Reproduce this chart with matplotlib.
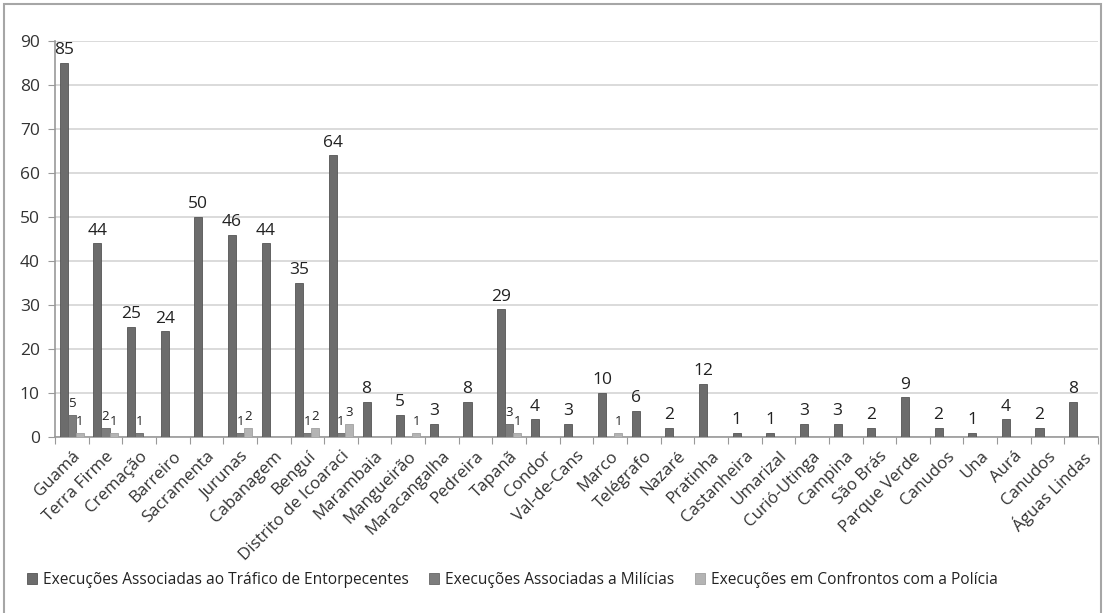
import matplotlib
matplotlib.use('Agg')
import matplotlib.pyplot as plt
import numpy as np
from matplotlib.patches import Rectangle

plt.rcParams['font.family'] = ['Open Sans', 'DejaVu Sans']

# dados
bairros = ['Guamá', 'Terra Firme', 'Cremação', 'Barreiro', 'Sacramenta', 'Jurunas',
           'Cabanagem', 'Benguí', 'Distrito de Icoaraci', 'Marambaia', 'Mangueirão',
           'Maracangalha', 'Pedreira', 'Tapanã', 'Condor', 'Val-de-Cans', 'Marco',
           'Telégrafo', 'Nazaré', 'Pratinha', 'Castanheira', 'Umarizal', 'Curió-Utinga',
           'Campina', 'São Brás', 'Parque Verde', 'Canudos', 'Una', 'Aurá', 'Canudos',
           'Águas Lindas']
trafico = [85, 44, 25, 24, 50, 46, 44, 35, 64, 8, 5, 3, 8, 29, 4, 3, 10, 6, 2, 12,
           1, 1, 3, 3, 2, 9, 2, 1, 4, 2, 8]
milicias = [5, 2, 1, 0, 0, 1, 0, 1, 1, 0, 0, 0, 0, 3, 0, 0, 0, 0, 0, 0,
            0, 0, 0, 0, 0, 0, 0, 0, 0, 0, 0]
policia = [1, 1, 0, 0, 0, 2, 0, 2, 3, 0, 1, 0, 0, 1, 0, 0, 1, 0, 0, 0,
           0, 0, 0, 0, 0, 0, 0, 0, 0, 0, 0]
series_nomes = ['Execuções Associadas ao Tráfico de Entorpecentes',
                'Execuções Associadas a Milícias',
                'Execuções em Confrontos com a Polícia']

cores = ['#6c6c6c', '#7d7d7d', '#b4b4b4']
bordas = ['#555555', '#666666', '#a0a0a0']

fig = plt.figure(figsize=(11.05, 6.13), dpi=100)
ax = fig.add_axes([0.0498, 0.287, 0.9439, 0.646])

x = np.arange(len(bairros))
w = 0.24
valores = [trafico, milicias, policia]
tamanhos = [12.5, 9.5, 9.5]
for i, vals in enumerate(valores):
    pos = x + (i - 1) * w
    ax.bar(pos, vals, width=w, color=cores[i], edgecolor=bordas[i], linewidth=0.6,
           label=series_nomes[i], zorder=3)
    for p, v in zip(pos, vals):
        if v > 0:
            ax.text(p, v + 1.1, str(v), ha='center', va='bottom',
                    fontsize=tamanhos[i], color='#222222', zorder=4)

ax.set_xlim(-0.5, len(bairros) - 0.5)
ax.set_ylim(0, 90)
ax.set_yticks(range(0, 91, 10))
ax.tick_params(axis='y', labelsize=12.5, colors='#333333', length=5, color='#999999', pad=6)
ax.yaxis.grid(True, color='#d4d4d4', linewidth=1.2, zorder=0)

# ticks nos limites das categorias, rótulos no centro
ax.set_xticks(np.arange(-0.5, len(bairros), 1.0))
ax.set_xticklabels([])
ax.tick_params(axis='x', which='major', length=5, color='#999999', direction='out')
ax.set_xticks(x, minor=True)
ax.set_xticklabels(bairros, minor=True, rotation=45, ha='right',
                   rotation_mode='anchor', fontsize=12.2, color='#333333')
ax.tick_params(axis='x', which='minor', length=0, pad=8)

for s in ['top', 'right']:
    ax.spines[s].set_visible(False)
ax.spines['left'].set_color('#999999')
ax.spines['bottom'].set_color('#999999')
ax.spines['left'].set_linewidth(1.2)
ax.spines['bottom'].set_linewidth(1.2)

fig.legend(loc='center left', bbox_to_anchor=(0.024, 0.054), ncol=3, frameon=False,
           fontsize=11.2, handlelength=0.65, handleheight=0.65, handletextpad=0.4,
           columnspacing=1.3, borderaxespad=0, borderpad=0, labelcolor='#222222')

fig.patches.append(Rectangle((0.004, -0.01), 0.992, 1.003, transform=fig.transFigure,
                             fill=False, edgecolor='#a6a6a6', linewidth=1.5))

fig.savefig('out.png', dpi=100, facecolor='white')
